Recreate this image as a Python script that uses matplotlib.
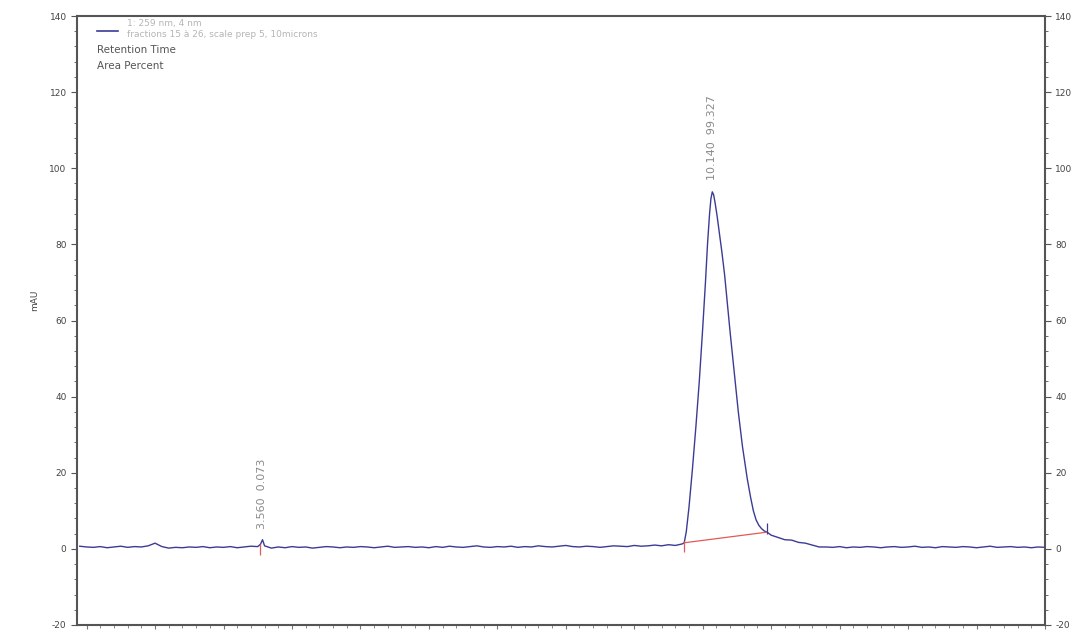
import numpy as np
import matplotlib.pyplot as plt
from matplotlib.ticker import MultipleLocator

plt.rcParams["axes.unicode_minus"] = False

# baseline before the main peak, sampled every 0.1 min
base_a_t = np.round(np.arange(0.9, 9.65, 0.1), 2)
base_a_mau = [0.7, 0.5, 0.4, 0.6, 0.3, 0.5, 0.7, 0.4, 0.6, 0.5,
              0.8, 1.5, 0.6, 0.2, 0.4, 0.3, 0.5, 0.4, 0.6, 0.3,
              0.5, 0.4, 0.6, 0.3, 0.5, 0.7, 0.6, 0.8, 0.2, 0.5,
              0.3, 0.6, 0.4, 0.5, 0.2, 0.4, 0.6, 0.5, 0.3, 0.5,
              0.4, 0.6, 0.5, 0.3, 0.5, 0.7, 0.4, 0.5, 0.6, 0.4,
              0.5, 0.3, 0.6, 0.4, 0.7, 0.5, 0.4, 0.6, 0.8, 0.5,
              0.4, 0.6, 0.5, 0.7, 0.4, 0.6, 0.5, 0.8, 0.6, 0.5,
              0.7, 0.9, 0.6, 0.5, 0.7, 0.6, 0.4, 0.6, 0.8, 0.7,
              0.6, 0.9, 0.7, 0.8, 1.0, 0.8, 1.1, 0.9]

# tiny peak at 3.56 min
small_t = [3.54, 3.57]
small_mau = [1.2, 2.4]

# main peak at 10.14 min
peak_t = [9.70, 9.73, 9.76, 9.80, 9.85, 9.90, 9.95, 10.00, 10.04, 10.07,
          10.10, 10.12, 10.14, 10.16, 10.18, 10.21, 10.24, 10.28, 10.32, 10.36,
          10.40, 10.46, 10.52, 10.58, 10.65, 10.70, 10.74, 10.78, 10.82, 10.86,
          10.90, 10.94, 11.00, 11.10, 11.20, 11.30, 11.40, 11.50, 11.60, 11.70]
peak_mau = [1.3, 1.6, 4.5, 11.0, 21.0, 32.0, 44.0, 58.0, 70.0, 80.0,
            88.0, 92.0, 93.8, 93.0, 91.0, 87.5, 83.5, 78.0, 72.0, 64.5,
            57.0, 46.5, 36.0, 27.0, 18.5, 13.5, 10.0, 7.6, 6.2, 5.3,
            4.7, 4.4, 3.6, 3.0, 2.4, 2.3, 1.7, 1.5, 1.0, 0.5]

# baseline after the peak
base_b_t = np.round(np.arange(11.8, 15.01, 0.1), 2)
base_b_mau = [0.5, 0.4, 0.6, 0.3, 0.5, 0.4, 0.6, 0.5, 0.3, 0.5,
              0.6, 0.4, 0.5, 0.7, 0.4, 0.5, 0.3, 0.6, 0.5, 0.4,
              0.6, 0.5, 0.3, 0.5, 0.7, 0.4, 0.5, 0.6, 0.4, 0.5,
              0.3, 0.5, 0.4]

# integration results
peaks_rt = [3.560, 10.140]
peaks_area = [0.073, 99.327]
label_y = [5.3, 97.0]
int_start = (9.73, 1.6)
int_end = (10.94, 4.4)

t = np.concatenate([base_a_t, small_t, peak_t, base_b_t])
mau = np.concatenate([base_a_mau, small_mau, peak_mau, base_b_mau])
order = np.argsort(t)
t, mau = t[order], mau[order]

fig = plt.figure(figsize=(10.8, 6.35), dpi=100)
ax = fig.add_axes([77 / 1080, 1 - 625 / 635, 968 / 1080, 609 / 635])

trace_col = "#3b3b96"
red = "#e05a5a"
ax.plot(t, mau, color=trace_col, lw=1.0)

# integration baseline and markers
ax.plot([int_start[0], int_end[0]], [int_start[1], int_end[1]], color=red, lw=0.9)
ax.vlines([int_start[0]], int_start[1] - 2.5, int_start[1] + 0.5, color=red, lw=0.9)
ax.vlines([int_end[0]], int_end[1] - 0.5, int_end[1] + 2.5, color=trace_col, lw=0.9)
ax.vlines([3.54], -1.5, 1.2, color=red, lw=0.9)

for rt, area, ly in zip(peaks_rt, peaks_area, label_y):
    ax.text(rt, ly, f"{rt:.3f}  {area:.3f}", rotation=90, ha="center", va="bottom",
            fontsize=8, color="#8a8a8a")

ax.set_xlim(0.86, 15.0)
ax.set_ylim(-20, 140)

for s in ax.spines.values():
    s.set_color("#555555")
    s.set_linewidth(1.5)

ax.yaxis.set_major_locator(MultipleLocator(20))
ax.yaxis.set_minor_locator(MultipleLocator(4))
ax.xaxis.set_major_locator(MultipleLocator(1))
ax.xaxis.set_minor_locator(MultipleLocator(0.2))
ax.tick_params(axis="y", which="both", direction="out", left=True, right=True,
               labelleft=True, labelright=True, labelsize=6.5, labelcolor="#444444",
               color="#555555")
ax.tick_params(axis="y", which="major", length=4)
ax.tick_params(axis="y", which="minor", length=2.5)
ax.tick_params(axis="x", which="both", direction="out", bottom=True, labelbottom=False,
               color="#777777")
ax.tick_params(axis="x", which="major", length=3)
ax.tick_params(axis="x", which="minor", length=2)

fig.text(35 / 1080, 1 - 300 / 635, "mAU", rotation=90, ha="center", va="center",
         fontsize=6.5, color="#444444")

# legend block
ax.plot([0.0207, 0.042], [0.975, 0.975], transform=ax.transAxes, color=trace_col, lw=1.2)
ax.text(0.052, 0.987, "1: 259 nm, 4 nm", transform=ax.transAxes, fontsize=6.5,
        color="#b5b5b5", va="center")
ax.text(0.052, 0.969, "fractions 15 à 26, scale prep 5, 10microns", transform=ax.transAxes,
        fontsize=6.5, color="#b5b5b5", va="center")
ax.text(0.0207, 0.944, "Retention Time", transform=ax.transAxes, fontsize=7.5,
        color="#555555", va="center")
ax.text(0.0207, 0.918, "Area Percent", transform=ax.transAxes, fontsize=7.5,
        color="#555555", va="center")

fig.savefig("out.png", dpi=100)
